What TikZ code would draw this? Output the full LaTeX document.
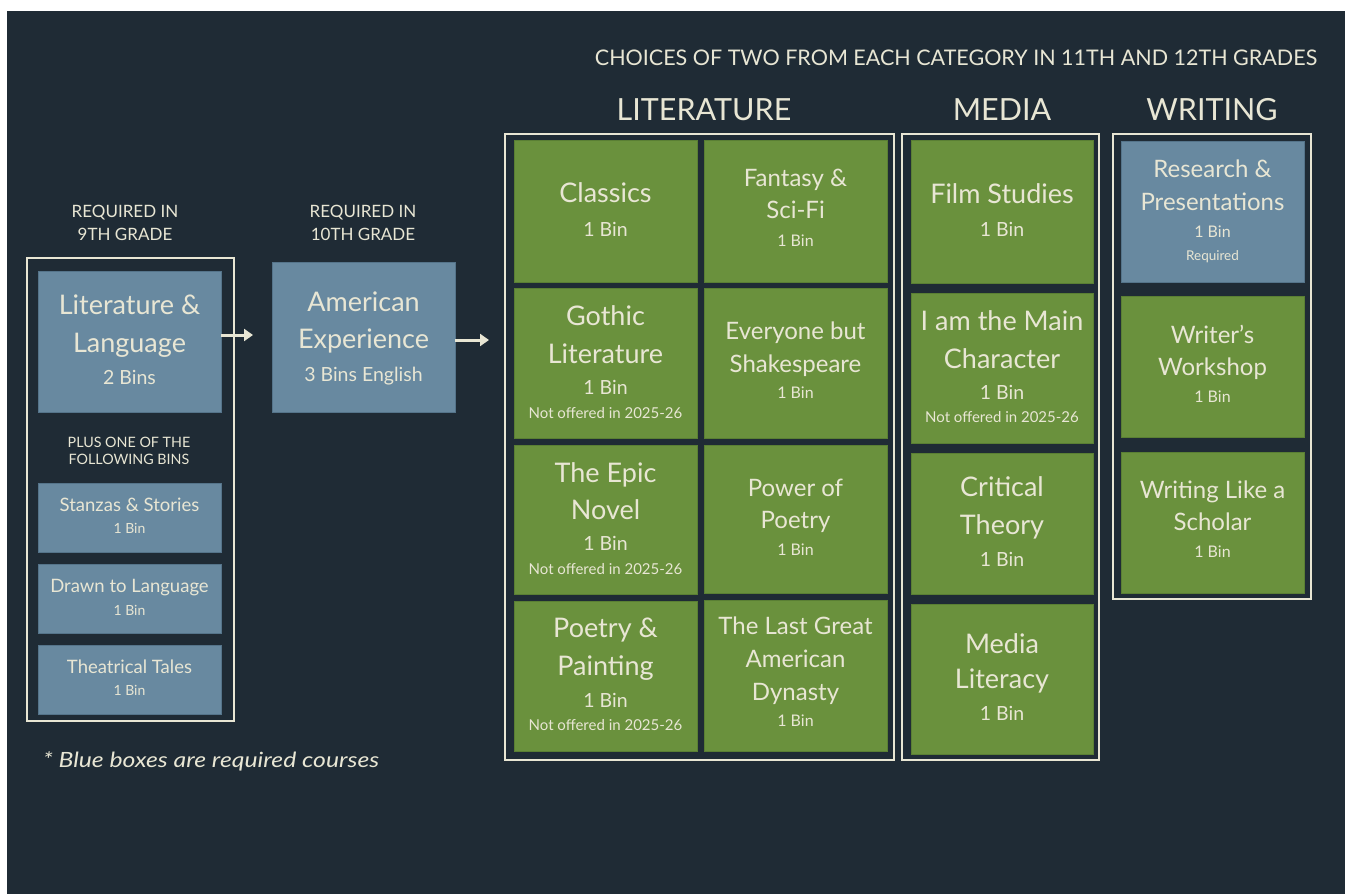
\documentclass[tikz,border=0pt]{standalone}
\usepackage{fontspec}
\setmainfont{Lato}
\usetikzlibrary{arrows.meta}
\definecolor{bg}{HTML}{1F2B35}
\definecolor{bluebox}{HTML}{6889A0}
\definecolor{greenbox}{HTML}{6A913D}
\definecolor{cream}{HTML}{E8E6D4}
\definecolor{blueedge}{HTML}{55748A}
\definecolor{greenedge}{HTML}{5A7F34}
\newcommand\mkbox[6]{\node[#1,minimum width={(#5-#3)*1pt},minimum height={(#6-#4)*1pt}] (#2) at ({(#3+#5)/2},{(#4+#6)/2}) {};}
\newcommand\tl[5]{\node[#1] (#2) at (#3.center |- 0,#4) {#5};}
\tikzset{
 bbox/.style={fill=bluebox, draw=blueedge, line width=0.8pt, inner sep=0pt},
 gbox/.style={fill=greenbox, draw=greenedge, line width=0.8pt, inner sep=0pt},
 frame/.style={draw=cream, line width=2pt, inner sep=0pt},
 txt/.style={text=cream, inner sep=0pt, outer sep=0pt, anchor=center, text depth=0pt},
 tA/.style={txt, font=\fontsize{27}{32}\selectfont, text height=19.3pt},
 tB/.style={txt, font=\fontsize{24}{28}\selectfont, text height=17.2pt},
 bA/.style={txt, font=\fontsize{19.5}{23}\selectfont, text height=14pt},
 bB/.style={txt, font=\fontsize{16}{19}\selectfont, text height=11.5pt},
 bC/.style={txt, font=\fontsize{14}{17}\selectfont, text height=10pt},
 nA/.style={txt, font=\fontsize{15}{18}\selectfont, text height=10.7pt},
 rq/.style={txt, font=\fontsize{13.5}{16}\selectfont, text height=9.7pt},
 hd/.style={txt, font=\fontsize{30.5}{35}\selectfont, text height=21.9pt},
 sub/.style={txt, font=\fontsize{21.5}{25}\selectfont, text height=15.4pt},
 req/.style={txt, font=\fontsize{17}{20}\selectfont, text height=12.2pt},
 plus/.style={txt, font=\fontsize{14.3}{17}\selectfont, text height=10.3pt},
 sm/.style={txt, font=\fontsize{18.5}{22}\selectfont, text height=13.3pt},
 note/.style={txt, anchor=west, font=\fontsize{21}{25}\selectfont\itshape, text height=15pt},
 arr/.style={draw=cream, line width=3pt, -{Triangle[length=9pt,width=12pt]}},
}
\begin{document}
\begin{tikzpicture}[x=1pt,y=-1pt]
\useasboundingbox (0,0) rectangle (1345,894);
\fill[white] (0,0) rectangle (1345,894);
\fill[bg] (7,11) rectangle (1345,894);
% ---- 9th grade
\node[req] (r9a) at (125,211) {REQUIRED IN};
\node[req] (r9b) at (125,234) {9TH GRADE};
\mkbox{frame}{fr9}{27}{258}{234}{721}
\mkbox{bbox}{litlang}{38}{271}{221}{412}
\mkbox{bbox}{stanzas}{38}{483}{221}{552}
\mkbox{bbox}{drawn}{38}{564}{221}{633}
\mkbox{bbox}{theat}{38}{645}{221}{714}
\tl{tA}{litlang1}{litlang}{305}{Literature \&}
\tl{tA}{litlang2}{litlang}{343}{Language}
\tl{bA}{litlang3}{litlang}{377}{2 Bins}
\node[plus] (plus1) at (129,442) {PLUS ONE OF THE};
\node[plus] (plus2) at (129,459) {FOLLOWING BINS};
\tl{sm}{st1}{stanzas}{505}{Stanzas \& Stories}
\tl{bC}{st2}{stanzas}{528}{1 Bin}
\tl{sm}{dr1}{drawn}{586}{Drawn to Language}
\tl{bC}{dr2}{drawn}{610}{1 Bin}
\tl{sm}{th1}{theat}{667}{Theatrical Tales}
\tl{bC}{th2}{theat}{690}{1 Bin}
\node[note] (foot) at (43,760) {\scalebox{1.18}[1]{* Blue boxes are required courses}};
% ---- 10th grade
\node[req] (r10a) at (363,211) {REQUIRED IN};
\node[req] (r10b) at (363,234) {10TH GRADE};
\mkbox{bbox}{amexp}{272}{262}{455}{412}
\tl{tA}{am1}{amexp}{302}{American}
\tl{tA}{am2}{amexp}{339}{Experience}
\tl{bA}{am3}{amexp}{374}{3 Bins English}
% ---- arrows
\coordinate (a1) at (253,335);
\draw[arr] (litlang.east |- a1) -- (a1);
\coordinate (a2) at (489,340);
\draw[arr] (amexp.east |- a2) -- (a2);
% ---- headings
\node[sub] (choices) at (956,58) {CHOICES OF TWO FROM EACH CATEGORY IN 11TH AND 12TH GRADES};
\node[hd] (hlit) at (704,110) {LITERATURE};
\node[hd] (hmed) at (1002,110) {MEDIA};
\node[hd] (hwri) at (1212,110) {WRITING};
% ---- literature
\mkbox{frame}{frlit}{505}{134}{894}{760}
\mkbox{gbox}{classics}{514}{140}{697}{282}
\mkbox{gbox}{fantasy}{704}{140}{887}{282}
\mkbox{gbox}{gothic}{514}{288}{697}{438}
\mkbox{gbox}{everyone}{704}{288}{887}{438}
\mkbox{gbox}{epic}{514}{445}{697}{594}
\mkbox{gbox}{power}{704}{445}{887}{593}
\mkbox{gbox}{poetry}{514}{601}{697}{751}
\mkbox{gbox}{dynasty}{704}{600}{887}{751}
\tl{tA}{cl1}{classics}{193}{Classics}
\tl{bA}{cl2}{classics}{229}{1 Bin}
\tl{tB}{fa1}{fantasy}{178}{Fantasy \&}
\tl{tB}{fa2}{fantasy}{210}{Sci-Fi}
\tl{bB}{fa3}{fantasy}{241}{1 Bin}
\tl{tA}{go1}{gothic}{316}{Gothic}
\tl{tA}{go2}{gothic}{354}{Literature}
\tl{bA}{go3}{gothic}{387}{1 Bin}
\tl{nA}{go4}{gothic}{413}{Not offered in 2025-26}
\tl{tB}{ev1}{everyone}{331}{Everyone but}
\tl{tB}{ev2}{everyone}{364}{Shakespeare}
\tl{bB}{ev3}{everyone}{393}{1 Bin}
\tl{tA}{ep1}{epic}{473}{The Epic}
\tl{tA}{ep2}{epic}{510}{Novel}
\tl{bA}{ep3}{epic}{543}{1 Bin}
\tl{nA}{ep4}{epic}{569}{Not offered in 2025-26}
\tl{tB}{po1}{power}{488}{Power of}
\tl{tB}{po2}{power}{520}{Poetry}
\tl{bB}{po3}{power}{550}{1 Bin}
\tl{tA}{pp1}{poetry}{628}{Poetry \&}
\tl{tA}{pp2}{poetry}{666}{Painting}
\tl{bA}{pp3}{poetry}{700}{1 Bin}
\tl{nA}{pp4}{poetry}{725}{Not offered in 2025-26}
\tl{tB}{dy1}{dynasty}{626}{The Last Great}
\tl{tB}{dy2}{dynasty}{659}{American}
\tl{tB}{dy3}{dynasty}{692}{Dynasty}
\tl{bB}{dy4}{dynasty}{721}{1 Bin}
% ---- media
\mkbox{frame}{frmed}{902}{134}{1099}{760}
\mkbox{gbox}{film}{911}{140}{1093}{283}
\mkbox{gbox}{mainch}{911}{293}{1093}{443}
\mkbox{gbox}{critical}{911}{453}{1093}{594}
\mkbox{gbox}{medlit}{911}{604}{1093}{754}
\tl{tA}{fi1}{film}{194}{Film Studies}
\tl{bA}{fi2}{film}{229}{1 Bin}
\tl{tA}{mc1}{mainch}{321}{I am the Main}
\tl{tA}{mc2}{mainch}{359}{Character}
\tl{bA}{mc3}{mainch}{392}{1 Bin}
\tl{nA}{mc4}{mainch}{417}{Not offered in 2025-26}
\tl{tA}{ct1}{critical}{487}{Critical}
\tl{tA}{ct2}{critical}{525}{Theory}
\tl{bA}{ct3}{critical}{559}{1 Bin}
\tl{tA}{ml1}{medlit}{644}{Media}
\tl{tA}{ml2}{medlit}{679}{Literacy}
\tl{bA}{ml3}{medlit}{713}{1 Bin}
% ---- writing
\mkbox{frame}{frwri}{1113}{134}{1311}{599}
\mkbox{bbox}{research}{1121}{141}{1304}{282}
\mkbox{gbox}{workshop}{1121}{296}{1304}{437}
\mkbox{gbox}{scholar}{1121}{452}{1304}{593}
\tl{tB}{rs1}{research}{169}{Research \&}
\tl{tB}{rs2}{research}{202}{Presentations}
\tl{bB}{rs3}{research}{232}{1 Bin}
\tl{rq}{rs4}{research}{256}{Required}
\tl{tB}{ws1}{workshop}{335}{Writer’s}
\tl{tB}{ws2}{workshop}{367}{Workshop}
\tl{bB}{ws3}{workshop}{397}{1 Bin}
\tl{tB}{sc1}{scholar}{490}{Writing Like a}
\tl{tB}{sc2}{scholar}{522}{Scholar}
\tl{bB}{sc3}{scholar}{552}{1 Bin}
\end{tikzpicture}
\end{document}
